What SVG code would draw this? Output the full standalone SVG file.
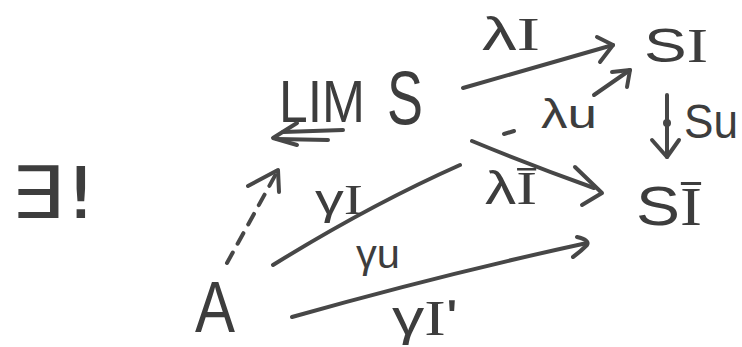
<svg xmlns="http://www.w3.org/2000/svg" width="742" height="347" viewBox="0 0 742 347">
<style>
.t{font-family:"Liberation Sans","DejaVu Sans",sans-serif;fill:#3d3d3d}
.s{font-family:"Liberation Serif",serif}
.c{fill:none;stroke:#474747;stroke-width:4;stroke-linecap:round;stroke-linejoin:round}
.d{stroke-dasharray:12 10}
</style>
<rect width="742" height="347" fill="#ffffff"/>
<g id="node-exists">
<text class="t" x="10" y="218" font-size="72" textLength="88" lengthAdjust="spacingAndGlyphs" style="font-family:'DejaVu Sans',sans-serif">∃!</text>
</g>
<g id="node-limS">
<text class="t" x="279" y="122" font-size="60" textLength="86" lengthAdjust="spacingAndGlyphs">LIM</text>
<text class="t" x="387" y="124" font-size="76" textLength="36" lengthAdjust="spacingAndGlyphs">S</text>
</g>
<g id="node-SI">
<text class="t" x="644" y="62" font-size="49" textLength="64" lengthAdjust="spacingAndGlyphs">S<tspan class="s">I</tspan></text>
</g>
<g id="node-SIbar">
<text class="t" x="636" y="225" font-size="55" textLength="66" lengthAdjust="spacingAndGlyphs">S<tspan class="s">Ī</tspan></text>
</g>
<g id="node-A">
<text class="t" x="195" y="332" font-size="72" textLength="40" lengthAdjust="spacingAndGlyphs">A</text>
</g>
<g id="connectors">
<!-- LIM S to SI : λI -->
<path class="c" d="M463,88 Q540,66 613,45"/>
<path class="c" d="M597,37 L613,45 L600,62"/>
<text class="t" x="482" y="50" font-size="46" textLength="58" lengthAdjust="spacingAndGlyphs">λ<tspan class="s">I</tspan></text>
<!-- short arrow -λu -->
<path class="c" d="M594,95 L630,70"/>
<path class="c" d="M612,72 L630,70 L627,87"/>
<path class="c" d="M504,134 L514,131"/>
<text class="t" x="541" y="128" font-size="40" textLength="56" lengthAdjust="spacingAndGlyphs">λu</text>
<!-- Su vertical -->
<path class="c" d="M667,95 L667,157"/>
<circle cx="667" cy="123" r="4" fill="#474747"/>
<path class="c" d="M652,140 L667,157 L679,140"/>
<text class="t" x="684" y="138" font-size="48" textLength="54" lengthAdjust="spacingAndGlyphs">Su</text>
<!-- LIM S to S Ibar : λĪ -->
<path class="c" d="M472,141 Q530,165 594,188"/>
<path class="c" d="M575,167 L602,193 L582,205"/>
<text class="t" x="485" y="204" font-size="46" textLength="52" lengthAdjust="spacingAndGlyphs">λ<tspan class="s">Ī</tspan></text>
<!-- double arrow under LIM -->
<path class="c" d="M283,132 L343,130"/>
<path class="c" d="M277,139 L328,140"/>
<path class="c" d="M297,123 L273,138 L297,145"/>
<!-- A to LIM dashed -->
<path class="c d" d="M227,263 L277,172"/>
<path class="c" d="M248,186 L278,170 L279,192"/>
<!-- γI line -->
<path class="c" d="M273,265 Q370,205 460,165"/>
<text class="t" x="315" y="214" font-size="42" textLength="48" lengthAdjust="spacingAndGlyphs">γ<tspan class="s">I</tspan></text>
<!-- γu -->
<text class="t" x="356" y="268" font-size="40" textLength="44" lengthAdjust="spacingAndGlyphs">γu</text>
<!-- γI' arrow -->
<path class="c" d="M292,317 Q440,275 587,243"/>
<path class="c" d="M577,237 Q590,240 587,245 Q580,252 573,257"/>
<text class="t" x="392" y="335" font-size="50" textLength="66" lengthAdjust="spacingAndGlyphs">γ<tspan class="s">I</tspan>ʹ</text>
</g>
</svg>
